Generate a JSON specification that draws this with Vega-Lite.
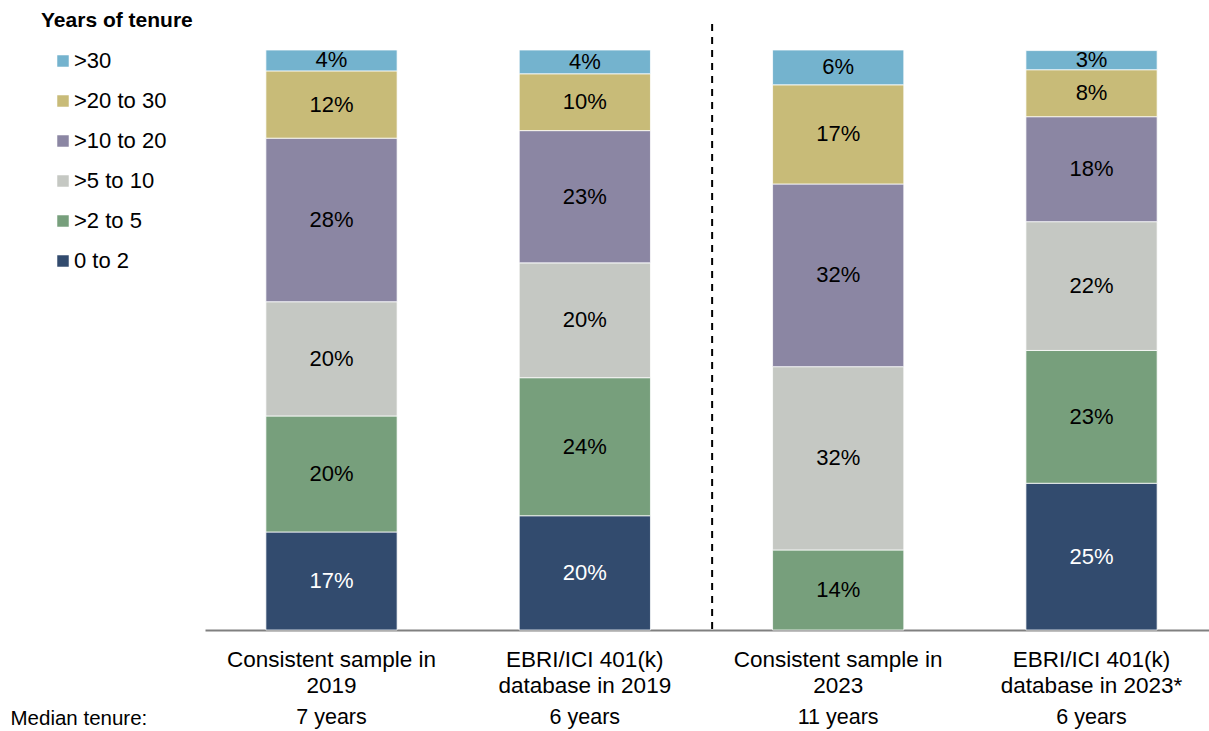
{
  "$schema": "https://vega.github.io/schema/vega-lite/v6.json",
  "width": 1004,
  "height": 580,
  "autosize": {"type": "none"},
  "padding": {"left": 205, "top": 50, "right": 0, "bottom": 101},
  "background": "white",
  "config": {"view": {"stroke": null}, "font": "Liberation Sans"},
  "datasets": {
    "shares": [
      {"sample": "Consistent sample in\n2019", "tenure": "0 to 2", "rank": 1, "share": 0.169},
      {"sample": "Consistent sample in\n2019", "tenure": ">2 to 5", "rank": 2, "share": 0.200},
      {"sample": "Consistent sample in\n2019", "tenure": ">5 to 10", "rank": 3, "share": 0.197},
      {"sample": "Consistent sample in\n2019", "tenure": ">10 to 20", "rank": 4, "share": 0.282},
      {"sample": "Consistent sample in\n2019", "tenure": ">20 to 30", "rank": 5, "share": 0.116},
      {"sample": "Consistent sample in\n2019", "tenure": ">30", "rank": 6, "share": 0.036},
      {"sample": "EBRI/ICI 401(k)\ndatabase in 2019", "tenure": "0 to 2", "rank": 1, "share": 0.197},
      {"sample": "EBRI/ICI 401(k)\ndatabase in 2019", "tenure": ">2 to 5", "rank": 2, "share": 0.238},
      {"sample": "EBRI/ICI 401(k)\ndatabase in 2019", "tenure": ">5 to 10", "rank": 3, "share": 0.198},
      {"sample": "EBRI/ICI 401(k)\ndatabase in 2019", "tenure": ">10 to 20", "rank": 4, "share": 0.228},
      {"sample": "EBRI/ICI 401(k)\ndatabase in 2019", "tenure": ">20 to 30", "rank": 5, "share": 0.098},
      {"sample": "EBRI/ICI 401(k)\ndatabase in 2019", "tenure": ">30", "rank": 6, "share": 0.041},
      {"sample": "Consistent sample in\n2023", "tenure": ">2 to 5", "rank": 2, "share": 0.138},
      {"sample": "Consistent sample in\n2023", "tenure": ">5 to 10", "rank": 3, "share": 0.316},
      {"sample": "Consistent sample in\n2023", "tenure": ">10 to 20", "rank": 4, "share": 0.315},
      {"sample": "Consistent sample in\n2023", "tenure": ">20 to 30", "rank": 5, "share": 0.171},
      {"sample": "Consistent sample in\n2023", "tenure": ">30", "rank": 6, "share": 0.060},
      {"sample": "EBRI/ICI 401(k)\ndatabase in 2023*", "tenure": "0 to 2", "rank": 1, "share": 0.253},
      {"sample": "EBRI/ICI 401(k)\ndatabase in 2023*", "tenure": ">2 to 5", "rank": 2, "share": 0.229},
      {"sample": "EBRI/ICI 401(k)\ndatabase in 2023*", "tenure": ">5 to 10", "rank": 3, "share": 0.222},
      {"sample": "EBRI/ICI 401(k)\ndatabase in 2023*", "tenure": ">10 to 20", "rank": 4, "share": 0.181},
      {"sample": "EBRI/ICI 401(k)\ndatabase in 2023*", "tenure": ">20 to 30", "rank": 5, "share": 0.081},
      {"sample": "EBRI/ICI 401(k)\ndatabase in 2023*", "tenure": ">30", "rank": 6, "share": 0.033}
    ],
    "medians": [
      {"sample": "Consistent sample in\n2019", "median": "7 years"},
      {"sample": "EBRI/ICI 401(k)\ndatabase in 2019", "median": "6 years"},
      {"sample": "Consistent sample in\n2023", "median": "11 years"},
      {"sample": "EBRI/ICI 401(k)\ndatabase in 2023*", "median": "6 years"}
    ]
  },
  "layer": [
    {
      "data": {"name": "shares"},
      "transform": [
        {"stack": "share", "groupby": ["sample"], "sort": [{"field": "rank", "order": "ascending"}], "as": ["s0", "s1"]}
      ],
      "mark": {"type": "bar", "stroke": "white", "strokeWidth": 0.75},
      "encoding": {
        "x": {
          "field": "sample", "type": "nominal",
          "sort": ["Consistent sample in\n2019", "EBRI/ICI 401(k)\ndatabase in 2019", "Consistent sample in\n2023", "EBRI/ICI 401(k)\ndatabase in 2023*"],
          "scale": {"paddingInner": 0.482, "paddingOuter": 0.2225, "align": 0.54},
          "axis": {
            "labelExpr": "split(datum.label, '\\n')",
            "labelAngle": 0, "labelFontSize": 22.5, "labelColor": "black", "labelFont": "Liberation Sans",
            "labelLineHeight": 26, "labelPadding": 18, "labelBaseline": "top", "labelLimit": 0,
            "ticks": false, "domainColor": "#808080", "domainWidth": 2,
            "title": "Median tenure:", "titleX": -195, "titleY": 88, "titleAlign": "left", "titleBaseline": "middle",
            "titleAnchor": null, "titleFontWeight": "normal", "titleFontSize": 20.5, "titleColor": "black", "titleFont": "Liberation Sans"
          }
        },
        "y": {"field": "s0", "type": "quantitative", "scale": {"domain": [0, 1], "nice": false}, "axis": null},
        "y2": {"field": "s1"},
        "color": {
          "field": "tenure", "type": "nominal",
          "scale": {
            "domain": [">30", ">20 to 30", ">10 to 20", ">5 to 10", ">2 to 5", "0 to 2"],
            "range": ["#74B3CE", "#C8BB78", "#8B86A3", "#C5C8C3", "#779F7C", "#324B6E"]
          },
          "legend": {
            "orient": "none", "legendX": -164, "legendY": -40, "padding": 0,
            "title": "Years of tenure", "titleFontSize": 21, "titleFontWeight": "bold", "titleColor": "black", "titleFont": "Liberation Sans",
            "titlePadding": 19, "titleAnchor": "start",
            "labelFontSize": 22, "labelColor": "black", "labelFont": "Liberation Sans", "labelOffset": 0,
            "symbolType": "square", "symbolSize": 132, "symbolStrokeWidth": 0, "symbolOffset": 11,
            "rowPadding": 18
          }
        }
      }
    },
    {
      "data": {"name": "shares"},
      "transform": [
        {"stack": "share", "groupby": ["sample"], "sort": [{"field": "rank", "order": "ascending"}], "as": ["s0", "s1"]},
        {"calculate": "(datum.s0 + datum.s1) / 2", "as": "mid"}
      ],
      "mark": {"type": "text", "fontSize": 22, "font": "Liberation Sans", "baseline": "middle", "align": "center"},
      "encoding": {
        "x": {"field": "sample", "type": "nominal", "sort": ["Consistent sample in\n2019", "EBRI/ICI 401(k)\ndatabase in 2019", "Consistent sample in\n2023", "EBRI/ICI 401(k)\ndatabase in 2023*"]},
        "y": {"field": "mid", "type": "quantitative", "scale": {"domain": [0, 1], "nice": false}},
        "text": {"field": "share", "type": "quantitative", "format": ".0%"},
        "color": {"condition": {"test": "datum.tenure === '0 to 2'", "value": "white"}, "value": "black"}
      }
    },
    {
      "data": {"name": "medians"},
      "mark": {"type": "text", "fontSize": 21.5, "font": "Liberation Sans", "baseline": "middle", "align": "center", "color": "black"},
      "encoding": {
        "x": {"field": "sample", "type": "nominal", "sort": ["Consistent sample in\n2019", "EBRI/ICI 401(k)\ndatabase in 2019", "Consistent sample in\n2023", "EBRI/ICI 401(k)\ndatabase in 2023*"]},
        "y": {"datum": -0.1517, "type": "quantitative", "scale": {"domain": [0, 1], "nice": false}},
        "text": {"field": "median", "type": "nominal"}
      }
    },
    {
      "data": {"values": [{}]},
      "mark": {"type": "rule", "color": "black", "strokeWidth": 2, "strokeDash": [7, 6]},
      "encoding": {
        "x": {"datum": "EBRI/ICI 401(k)\ndatabase in 2019", "type": "nominal", "bandPosition": 1.47},
        "y": {"datum": 1.045, "type": "quantitative", "scale": {"domain": [0, 1], "nice": false}},
        "y2": {"datum": 0}
      }
    }
  ]
}
